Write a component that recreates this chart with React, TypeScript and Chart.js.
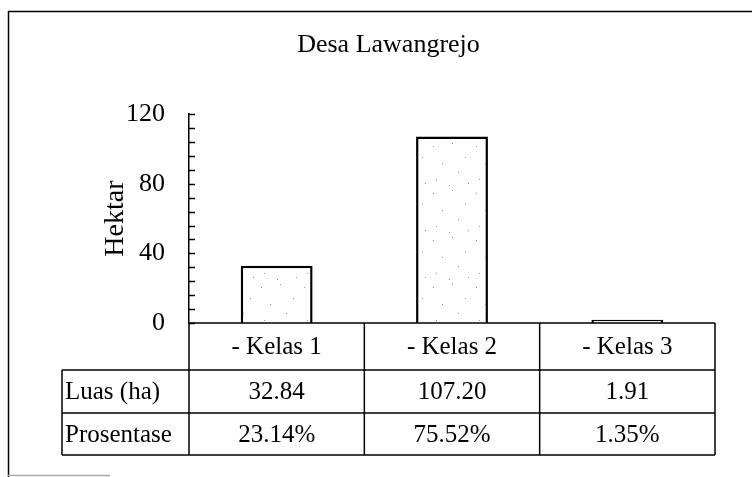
import React, { useEffect, useRef } from 'react';
import { Chart, registerables } from 'chart.js';

Chart.register(...registerables);

const chartTitle = 'Desa Lawangrejo';
const yAxisTitle = 'Hektar';
const categories = ['- Kelas 1', '- Kelas 2', '- Kelas 3'];
const luasValues = [32.84, 107.2, 1.91];
const luasLabels = ['32.84', '107.20', '1.91'];
const prosentaseLabels = ['23.14%', '75.52%', '1.35%'];
const rowLabels = ['Luas (ha)', 'Prosentase'];
const yMin = 0;
const yMax = 120;
const yMinorStep = 8;
const yMajorStep = 40;

const SERIF = "'Liberation Serif', 'Times New Roman', serif";

function makeStipple(): CanvasPattern | string {
  const c = document.createElement('canvas');
  c.width = 43;
  c.height = 47;
  const g = c.getContext('2d');
  if (!g) return '#fff';
  g.fillStyle = '#fff';
  g.fillRect(0, 0, c.width, c.height);
  g.fillStyle = '#9a9a9a';
  const dots = [[3, 5], [22, 2], [35, 16], [12, 22], [28, 31], [6, 38], [38, 42], [19, 44]];
  dots.forEach(([x, y]) => g.fillRect(x, y, 1, 1));
  return g.createPattern(c, 'repeat') || '#fff';
}

const tablePlugin = {
  id: 'frameTable',
  beforeDraw(chart: any) {
    const ctx = chart.ctx;
    ctx.save();
    ctx.fillStyle = '#fff';
    ctx.fillRect(0, 0, chart.width, chart.height);
    ctx.restore();
  },
  afterDraw(chart: any) {
    const { ctx, chartArea } = chart;
    const xs = chart.scales.x;
    const ys = chart.scales.y;
    ctx.save();
    ctx.strokeStyle = '#000';
    ctx.lineWidth = 1.5;
    // inward ticks on the value axis
    ys.ticks.forEach((t: any) => {
      const py = Math.round(ys.getPixelForValue(t.value)) + 0.5;
      ctx.beginPath();
      ctx.moveTo(chartArea.left, py);
      ctx.lineTo(chartArea.left + 6, py);
      ctx.stroke();
    });

    // data table
    const top = chartArea.bottom;
    const rowY = [top, top + 47, top + 90, top + 132];
    const labelLeft = 62;
    const edges: number[] = categories.map((_, i) => xs.getPixelForValue(i - 0.5));
    edges.push(xs.getPixelForValue(categories.length - 0.5));
    const right = edges[edges.length - 1];

    ctx.beginPath();
    ctx.moveTo(edges[0], rowY[0]);
    ctx.lineTo(right, rowY[0]);
    for (let r = 1; r < rowY.length; r++) {
      ctx.moveTo(labelLeft, rowY[r]);
      ctx.lineTo(right, rowY[r]);
    }
    edges.forEach((ex) => {
      ctx.moveTo(ex, rowY[0]);
      ctx.lineTo(ex, rowY[3]);
    });
    ctx.moveTo(labelLeft, rowY[1]);
    ctx.lineTo(labelLeft, rowY[3]);
    ctx.stroke();

    ctx.fillStyle = '#000';
    ctx.font = `25px ${SERIF}`;
    ctx.textBaseline = 'middle';
    const rows = [categories, luasLabels, prosentaseLabels];
    rows.forEach((row, r) => {
      const cy = (rowY[r] + rowY[r + 1]) / 2 + 1;
      ctx.textAlign = 'center';
      row.forEach((txt, i) => {
        ctx.fillText(txt, (edges[i] + edges[i + 1]) / 2, cy);
      });
      if (r > 0) {
        ctx.textAlign = 'left';
        ctx.fillText(rowLabels[r - 1], labelLeft + 3, cy);
      }
    });

    // outer frame
    ctx.beginPath();
    ctx.moveTo(8, 11.5);
    ctx.lineTo(chart.width, 11.5);
    ctx.moveTo(8.5, 11);
    ctx.lineTo(8.5, chart.height);
    ctx.stroke();
    ctx.strokeStyle = '#aaa';
    ctx.beginPath();
    ctx.moveTo(8, 475.5);
    ctx.lineTo(110, 475.5);
    ctx.stroke();
    ctx.restore();
  },
};

export default function App() {
  const ref = useRef<HTMLCanvasElement | null>(null);

  useEffect(() => {
    if (!ref.current) return;
    const stipple = makeStipple();
    const chart = new Chart(ref.current, {
      type: 'bar',
      data: {
        labels: categories,
        datasets: [
          {
            label: 'Luas (ha)',
            data: luasValues,
            backgroundColor: stipple as any,
            borderColor: '#000',
            borderWidth: 2.5,
            barPercentage: 0.41,
            categoryPercentage: 1,
          },
        ],
      },
      options: {
        responsive: false,
        animation: false,
        layout: { padding: { left: 62, right: 37, top: 11, bottom: 154 } },
        plugins: {
          legend: { display: false },
          tooltip: { enabled: false },
          title: {
            display: true,
            text: chartTitle,
            color: '#000',
            font: { family: SERIF, size: 26, weight: 'normal' },
            padding: { top: 19, bottom: 53 },
          },
        },
        scales: {
          x: {
            type: 'category',
            display: false,
            offset: true,
          },
          y: {
            min: yMin,
            max: yMax,
            afterFit: (scale: any) => {
              scale.width = 127;
            },
            grid: { display: false },
            border: { display: true, color: '#000', width: 1.5 },
            ticks: {
              stepSize: yMinorStep,
              autoSkip: false,
              color: '#000',
              padding: 16,
              font: { family: SERIF, size: 26 },
              callback: (v: any) => (Number(v) % yMajorStep === 0 ? String(v) : ''),
            },
            title: {
              display: true,
              text: yAxisTitle,
              color: '#000',
              font: { family: SERIF, size: 28 },
              padding: { top: 37, bottom: 0 },
            },
          },
        },
      },
      plugins: [tablePlugin],
    });
    return () => chart.destroy();
  }, []);

  return (
    <div style={{ position: 'absolute', left: 0, top: 0, width: 752, height: 477, background: '#fff' }}>
      <canvas ref={ref} width={752} height={477} />
    </div>
  );
}
